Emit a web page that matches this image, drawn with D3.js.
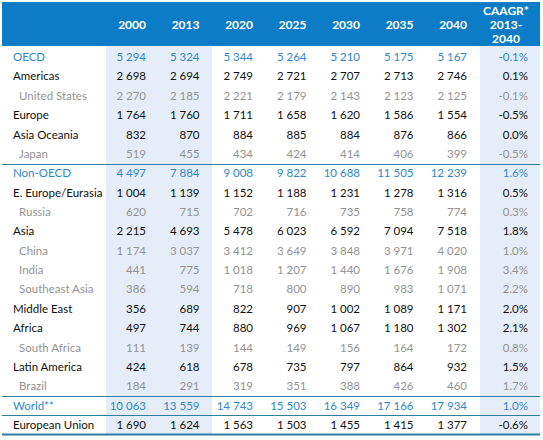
<!DOCTYPE html>
<html><head><meta charset="utf-8">
<script src="https://cdn.jsdelivr.net/npm/d3@7"></script>
<style>
html,body{margin:0;padding:0;background:#fff;}
svg{display:block;}
text{font-family:Lato,"Open Sans",sans-serif;}
</style></head>
<body><svg id="c" width="543" height="440"></svg>
<script>
// ---- data ----
const years = ["2000","2013","2020","2025","2030","2035","2040"];
const caagrHeader = ["CAAGR*","2013-","2040"];
const regions = ["OECD","Americas","United States","Europe","Asia Oceania","Japan",
  "Non-OECD","E. Europe/Eurasia","Russia","Asia","China","India","Southeast Asia",
  "Middle East","Africa","South Africa","Latin America","Brazil","World**","European Union"];
// row kind: g = group total (blue), r = region (black), c = country (grey)
const kinds = ["g","r","c","r","r","c","g","r","c","r","c","c","c","r","r","c","r","c","g","r"];
const v2000 = [5294,2698,2270,1764,832,519,4497,1004,620,2215,1174,441,386,356,497,111,424,184,10063,1690];
const v2013 = [5324,2694,2185,1760,870,455,7884,1139,715,4693,3037,775,594,689,744,139,618,291,13559,1624];
const v2020 = [5344,2749,2221,1711,884,434,9008,1152,702,5478,3412,1018,718,822,880,144,678,319,14743,1563];
const v2025 = [5264,2721,2179,1658,885,424,9822,1188,716,6023,3649,1207,800,907,969,149,735,351,15503,1503];
const v2030 = [5210,2707,2143,1620,884,414,10688,1231,735,6592,3848,1440,890,1002,1067,156,797,388,16349,1455];
const v2035 = [5175,2713,2123,1586,876,406,11505,1278,758,7094,3971,1676,983,1089,1180,164,864,426,17166,1415];
const v2040 = [5167,2746,2125,1554,866,399,12239,1316,774,7518,4020,1908,1071,1171,1302,172,932,460,17934,1377];
const caagr = [-0.1,0.1,-0.1,-0.5,0.0,-0.5,1.6,0.5,0.3,1.8,1.0,3.4,2.2,2.0,2.1,0.8,1.5,1.7,1.0,-0.6];
// lines drawn below these rows
const ruleAfter = ["Japan","Brazil","World**"];

const series = [v2000,v2013,v2020,v2025,v2030,v2035,v2040];

// ---- layout ----
const svg = d3.select("#c");
const L = 2, R = 540, headTop = 2, headBot = 46, bodyBot = 434;
const colX = d3.scaleLinear().domain([0,6]).range([146,467]); // right edge of year columns
const caagrX = 528;
const rowY = d3.scalePoint().domain(d3.range(regions.length)).range([57,425]);
const step = rowY.step();

const loc = d3.formatLocale({decimal:".",thousands:" ",grouping:[3],currency:["",""]});
const fmtN = loc.format(",d");
const fmtP = d => d3.format(".1f")(d).replace("−","-") + "%";

const colors = {g:"#2f88ca", r:"#111111", c:"#939393"};
const shade = "#e5eef8";
const headBlue = "#0d7cc6";
const ruleCol = "#2f7f9f";

// shaded columns
svg.append("rect").attr("x",106).attr("y",headBot).attr("width",212-106).attr("height",bodyBot-headBot).attr("fill",shade);
svg.append("rect").attr("x",480).attr("y",headBot).attr("width",R-480).attr("height",bodyBot-headBot).attr("fill",shade);

// header
svg.append("rect").attr("x",L).attr("y",headTop).attr("width",R-L).attr("height",headBot-headTop).attr("fill",headBlue);
svg.selectAll("text.yh").data(years).join("text").attr("class","yh")
  .attr("x",(d,i)=>colX(i)).attr("y",25).attr("dy","0.35em")
  .attr("text-anchor","end").attr("fill","#fff").attr("font-weight","bold").attr("font-size",12)
  .text(d=>d);
svg.selectAll("text.ch").data(caagrHeader).join("text").attr("class","ch")
  .attr("x",506).attr("y",(d,i)=>11+i*14).attr("dy","0.35em")
  .attr("text-anchor","middle").attr("fill","#fff").attr("font-weight","bold").attr("font-size",12)
  .text(d=>d);

// rows
const rows = svg.selectAll("g.row").data(regions).join("g").attr("class","row")
  .attr("transform",(d,i)=>`translate(0,${rowY(i)})`);
rows.append("text")
  .attr("x",(d,i)=>kinds[i]==="c"?19:13).attr("dy","0.35em").attr("font-size",11.5)
  .attr("fill",(d,i)=>colors[kinds[i]])
  .text(d=>d);
series.forEach((s,j)=>{
  rows.append("text").attr("x",colX(j)).attr("dy","0.35em").attr("text-anchor","end")
    .attr("font-size",11.5).attr("fill",(d,i)=>colors[kinds[i]])
    .text((d,i)=>fmtN(s[i]));
});
rows.append("text").attr("x",caagrX).attr("dy","0.35em").attr("text-anchor","end")
  .attr("font-size",11.5).attr("fill",(d,i)=>colors[kinds[i]])
  .text((d,i)=>fmtP(caagr[i]));

// rules
ruleAfter.forEach(name=>{
  const i = regions.indexOf(name);
  const y = Math.round(rowY(i)+step/2)+0.5;
  svg.append("line").attr("x1",L).attr("x2",R).attr("y1",y).attr("y2",y)
    .attr("stroke",ruleCol).attr("stroke-width",1.2);
});
svg.append("line").attr("x1",L).attr("x2",R).attr("y1",bodyBot+0.5).attr("y2",bodyBot+0.5)
  .attr("stroke",ruleCol).attr("stroke-width",2.2);
</script></body></html>
